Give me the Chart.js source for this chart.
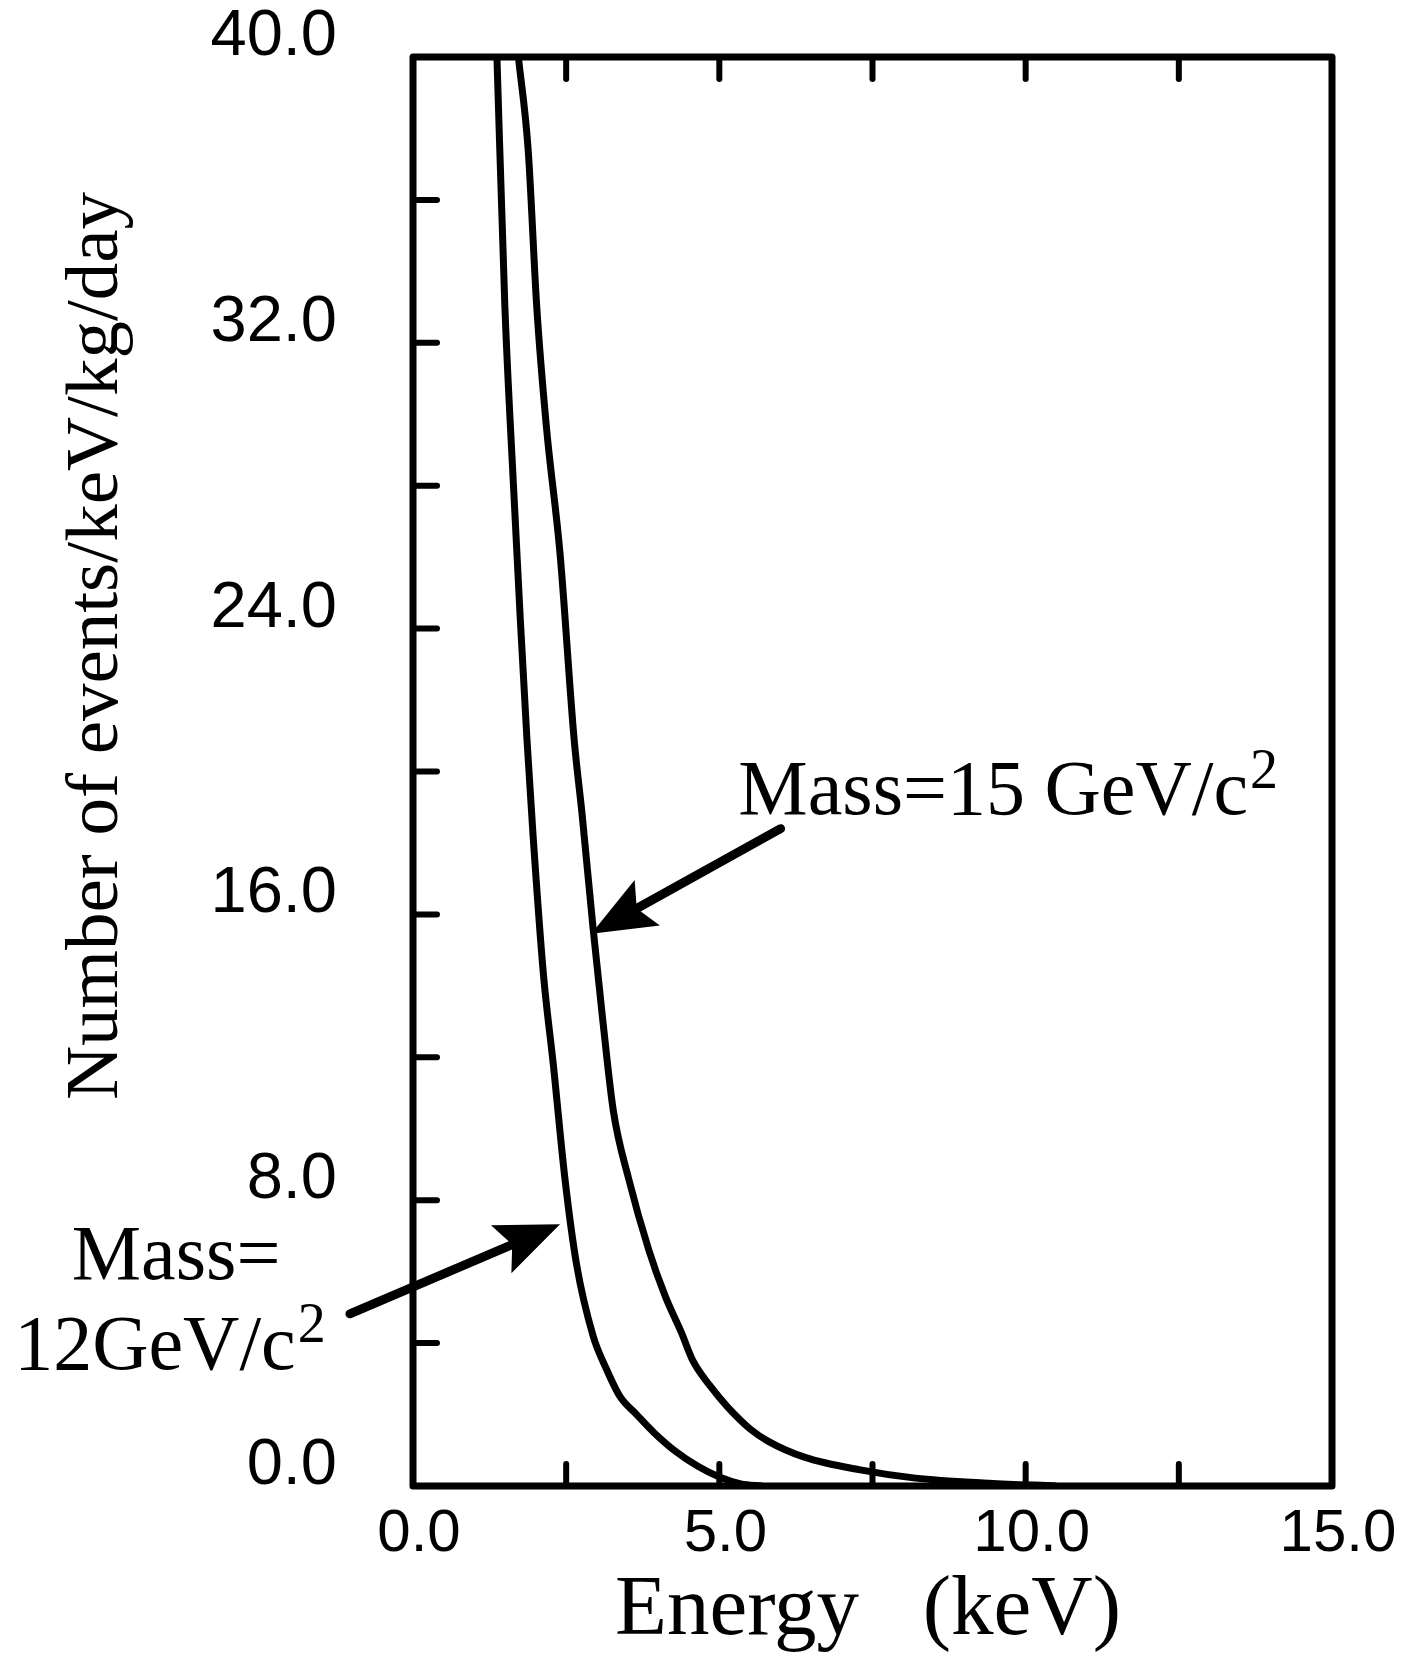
<!DOCTYPE html>
<html>
<head>
<meta charset="utf-8">
<script src="https://cdn.jsdelivr.net/npm/chart.js@4.4.1/dist/chart.umd.min.js"></script>
<style>
  html, body { margin: 0; padding: 0; background: #fff; }
  #wrap { width: 1408px; height: 1654px; }
</style>
</head>
<body>
<div id="wrap"><canvas id="chart" width="1408" height="1654"></canvas></div>
<script>
// recoil spectra (keV, events/keV/kg/day)
const energy12 = [1.37, 1.50, 1.64, 1.75, 1.86, 1.96, 2.13, 2.29, 2.48, 2.67, 2.94, 3.15, 3.38, 3.65, 3.93, 4.30, 4.65, 5.00, 5.35, 5.70];
const rate12 = [40.0, 33.0, 28.0, 24.3, 20.9, 18.2, 14.3, 11.8, 8.6, 6.2, 4.2, 3.3, 2.5, 2.0, 1.5, 0.95, 0.55, 0.25, 0.06, 0];

const energy15 = [1.72, 1.88, 2.02, 2.18, 2.40, 2.63, 2.76, 2.94, 3.10, 3.27, 3.52, 3.85, 4.12, 4.38, 4.57, 4.85, 5.14, 5.50, 5.80, 6.40, 7.30, 8.20, 9.40, 10.50];
const rate15 = [40.0, 37.4, 33.0, 29.6, 26.1, 20.9, 18.8, 15.6, 13.0, 10.5, 8.6, 6.6, 5.3, 4.3, 3.5, 2.8, 2.2, 1.6, 1.25, 0.8, 0.45, 0.22, 0.08, 0];

const xTicks = [0, 5, 10, 15];
const yTicks = [0, 8, 16, 24, 32, 40];
const xMinor = [2.5, 5, 7.5, 10, 12.5];
const yMinor = [4, 8, 12, 16, 20, 24, 28, 32, 36];

const serif = '"Liberation Serif", "Times New Roman", serif';
const sans = '"Liberation Sans", Arial, sans-serif';

function toPoints(xs, ys) {
  return xs.map((x, i) => ({ x: x, y: ys[i] }));
}

function drawArrow(ctx, x0, y0, x1, y1) {
  const ang = Math.atan2(y1 - y0, x1 - x0);
  const len = 64;
  const half = 26;
  const bx = x1 - len * Math.cos(ang);
  const by = y1 - len * Math.sin(ang);
  ctx.lineWidth = 9;
  ctx.beginPath();
  ctx.moveTo(x0, y0);
  ctx.lineTo(bx + 10 * Math.cos(ang), by + 10 * Math.sin(ang));
  ctx.stroke();
  ctx.beginPath();
  ctx.moveTo(x1, y1);
  ctx.lineTo(bx - half * Math.sin(ang), by + half * Math.cos(ang));
  ctx.lineTo(bx + 12 * Math.cos(ang), by + 12 * Math.sin(ang));
  ctx.lineTo(bx + half * Math.sin(ang), by - half * Math.cos(ang));
  ctx.closePath();
  ctx.fill();
}

function drawLabel(ctx, text, sup, x, y, size) {
  ctx.font = size + 'px ' + serif;
  ctx.textAlign = 'left';
  ctx.textBaseline = 'alphabetic';
  ctx.fillText(text, x, y);
  if (sup) {
    const w = ctx.measureText(text).width;
    ctx.font = Math.round(size * 0.72) + 'px ' + serif;
    ctx.fillText(sup, x + w + 2, y - size * 0.34);
  }
}

const decorations = {
  id: 'decorations',
  afterDatasetsDraw(chart) {
    const { ctx, chartArea: a, scales: { x, y } } = chart;
    ctx.save();
    ctx.strokeStyle = '#000';
    ctx.fillStyle = '#000';
    ctx.lineCap = 'round';
    ctx.lineJoin = 'round';

    // frame
    ctx.lineWidth = 7;
    ctx.strokeRect(a.left, a.top, a.right - a.left, a.bottom - a.top);

    // inward tick marks
    ctx.lineWidth = 6;
    ctx.beginPath();
    yMinor.forEach((v) => {
      const py = y.getPixelForValue(v);
      ctx.moveTo(a.left, py);
      ctx.lineTo(a.left + 24, py);
    });
    xMinor.forEach((v) => {
      const px = x.getPixelForValue(v);
      ctx.moveTo(px, a.bottom);
      ctx.lineTo(px, a.bottom - 22);
      ctx.moveTo(px, a.top);
      ctx.lineTo(px, a.top + 22);
    });
    ctx.stroke();

    // arrows
    drawArrow(ctx, x.getPixelForValue(6.0), y.getPixelForValue(18.4),
      x.getPixelForValue(2.91), y.getPixelForValue(15.46));
    drawArrow(ctx, x.getPixelForValue(-1.03), y.getPixelForValue(4.82),
      x.getPixelForValue(2.40), y.getPixelForValue(7.33));

    // curve labels
    drawLabel(ctx, 'Mass=15 GeV/c', '2', x.getPixelForValue(5.31), y.getPixelForValue(18.8), 78);
    drawLabel(ctx, 'Mass=', '', x.getPixelForValue(-5.57), y.getPixelForValue(5.79), 78);
    drawLabel(ctx, '12GeV/c', '2', x.getPixelForValue(-6.51), y.getPixelForValue(3.28), 78);

    // axis titles
    ctx.font = '85px ' + serif;
    ctx.textAlign = 'center';
    ctx.textBaseline = 'alphabetic';
    ctx.fillText('Energy   (keV)', 868, 1634);

    ctx.translate(97, 646);
    ctx.rotate(-Math.PI / 2);
    ctx.font = '75px ' + serif;
    ctx.textBaseline = 'middle';
    ctx.fillText('Number of events/keV/kg/day', 0, 0);
    ctx.restore();
  },
};

const dataChart = {
  datasets: [
    {
      label: 'Mass=12 GeV/c2',
      data: toPoints(energy12, rate12),
      borderColor: '#000',
      borderWidth: 7,
      pointRadius: 0,
      cubicInterpolationMode: 'monotone',
    },
    {
      label: 'Mass=15 GeV/c2',
      data: toPoints(energy15, rate15),
      borderColor: '#000',
      borderWidth: 7,
      pointRadius: 0,
      cubicInterpolationMode: 'monotone',
    },
  ],
};

const config = {
  type: 'line',
  data: dataChart,
  options: {
    responsive: false,
    animation: false,
    devicePixelRatio: 1,
    layout: { padding: { left: 0, right: 76, top: 57, bottom: 0 } },
    plugins: { legend: { display: false }, tooltip: { enabled: false } },
    scales: {
      x: {
        type: 'linear',
        min: 0,
        max: 15,
        afterBuildTicks: (scale) => { scale.ticks = xTicks.map((v) => ({ value: v })); },
        afterFit: (scale) => {
          scale.height = 168;
          scale.paddingLeft = 0;
          scale.paddingRight = 0;
        },
        grid: { display: false, drawTicks: false },
        border: { display: false },
        ticks: {
          autoSkip: false,
          maxRotation: 0,
          padding: 12,
          labelOffset: 6,
          color: '#000',
          font: { family: sans, size: 60 },
          callback: (v) => Number(v).toFixed(1),
        },
      },
      y: {
        type: 'linear',
        min: 0,
        max: 40,
        afterBuildTicks: (scale) => { scale.ticks = yTicks.map((v) => ({ value: v })); },
        afterFit: (scale) => {
          scale.width = 413;
          scale.paddingTop = 0;
          scale.paddingBottom = 0;
        },
        grid: { display: false, drawTicks: false },
        border: { display: false },
        ticks: {
          autoSkip: false,
          padding: 76,
          labelOffset: -20,
          color: '#000',
          font: { family: sans, size: 65 },
          callback: (v) => Number(v).toFixed(1),
        },
      },
    },
  },
  plugins: [decorations],
};

new Chart(document.getElementById('chart'), config);
</script>
</body>
</html>
